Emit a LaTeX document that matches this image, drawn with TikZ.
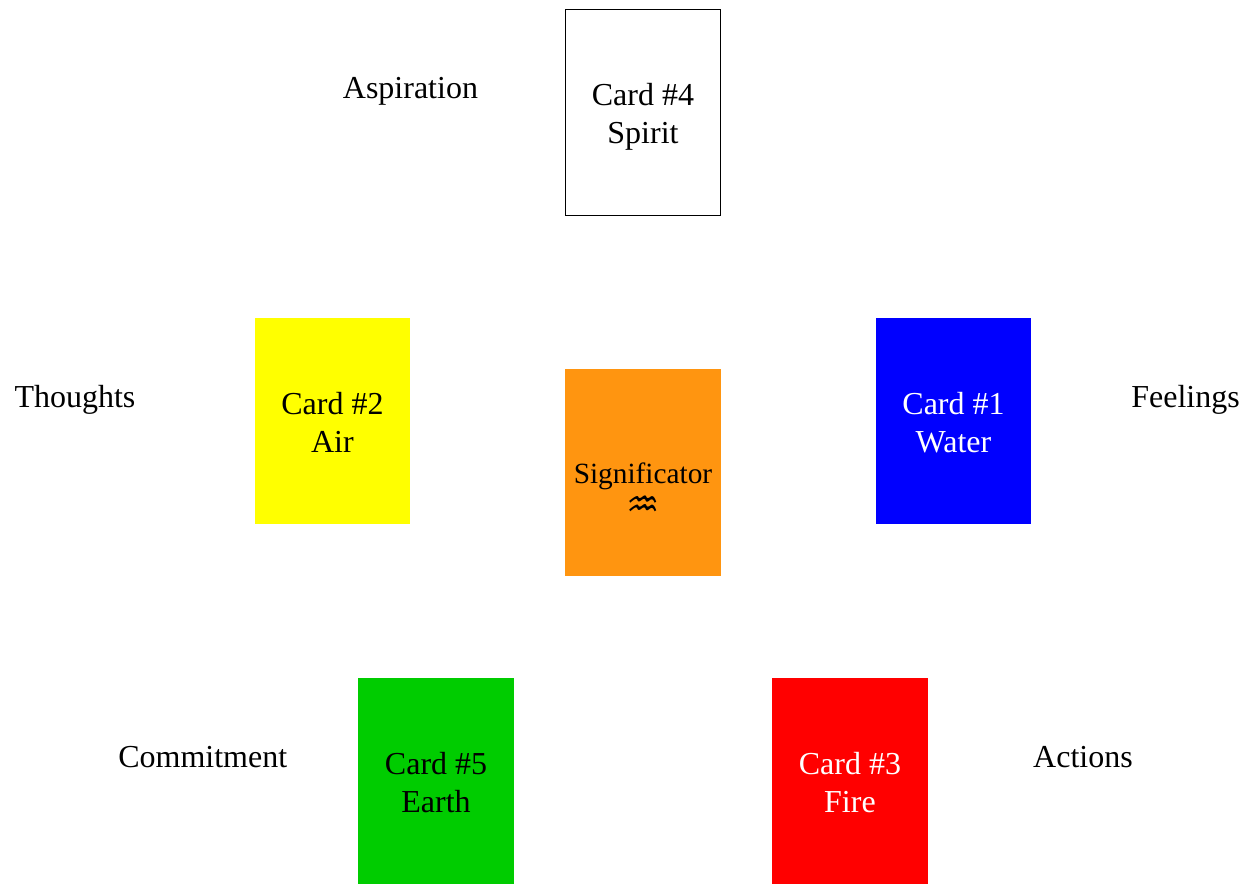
\documentclass[tikz,border=0pt]{standalone}
\usepackage{fontspec}
\setmainfont{Liberation Serif}
\newfontfamily\symbfont{DejaVu Sans}
\usetikzlibrary{positioning}
\definecolor{sigorange}{HTML}{FF9510}
\definecolor{earthgreen}{HTML}{00CC00}
\definecolor{airyellow}{HTML}{FFFF00}
\definecolor{waterblue}{HTML}{0000FF}
\definecolor{firered}{HTML}{FF0000}
\newcommand{\cardlines}[2]{\rule{0pt}{28pt}#1\\#2\strut}
\begin{document}
\begin{tikzpicture}[on grid,
    card/.style={minimum width=116.5pt,minimum height=154.5pt,inner sep=0pt,align=center,
      font=\fontsize{24}{28.5}\selectfont},
    tag/.style={inner sep=0pt,text height=17pt,text depth=5pt,font=\fontsize{24}{28.5}\selectfont}]
   \useasboundingbox (-482.25pt,354.375pt) rectangle (450pt,-308.625pt);
   \node[card,fill=sigorange,minimum height=155.2pt,font=\fontsize{22}{22.5}\selectfont] (sig) at (0,0)
      {\mbox{}\\[19.5pt]Significator\\[3pt]{\symbfont\fontsize{28}{22.5}\selectfont ♒}};
   \node[card,draw=black,line width=0.5pt] (card4) [above=270.4pt of sig] {\cardlines{Card \#4}{Spirit}};
   \node[card,fill=airyellow] (card2) [above left=38.6pt and 232.9pt of sig] {\cardlines{Card \#2}{Air}};
   \node[card,fill=waterblue,text=white] (card1) [above right=38.6pt and 232.9pt of sig] {\cardlines{Card \#1}{Water}};
   \node[card,fill=earthgreen] (card5) [below left=231.4pt and 155.2pt of sig] {\cardlines{Card \#5}{Earth}};
   \node[card,fill=firered,text=white] (card3) [below right=231.4pt and 155.2pt of sig] {\cardlines{Card \#3}{Fire}};
   \node[tag] (aspiration) [above left=16.1pt and 174.4pt of card4] {Aspiration};
   \node[tag] (thoughts) [above left=16.1pt and 193.1pt of card2] {Thoughts};
   \node[tag] (feelings) [above right=16.1pt and 174pt of card1] {Feelings};
   \node[tag] (commitment) [above left=16.1pt and 175pt of card5] {Commitment};
   \node[tag] (actions) [above right=16.1pt and 174.8pt of card3] {Actions};
\end{tikzpicture}
\end{document}
